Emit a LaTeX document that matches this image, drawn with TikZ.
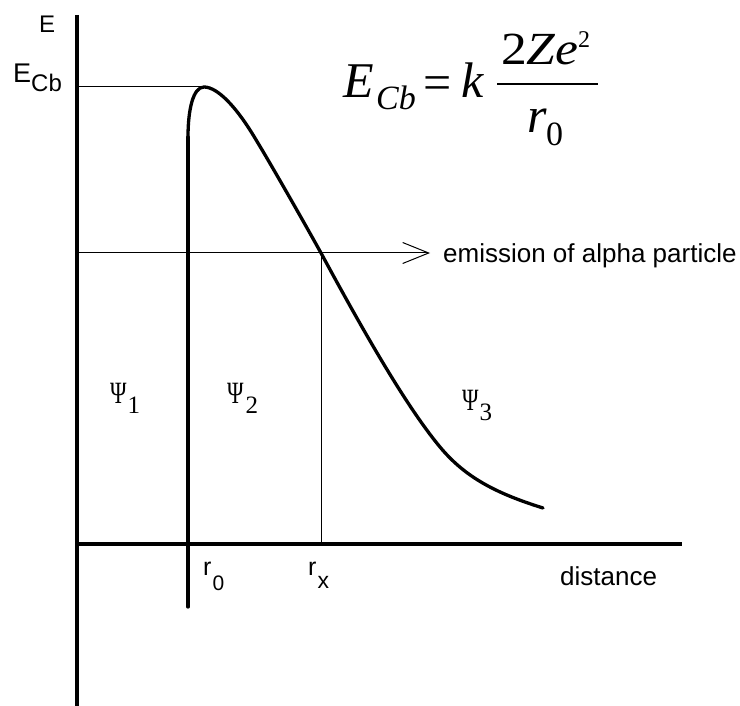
\documentclass[tikz,border=0pt]{standalone}
\usepackage{fontspec}
\usepackage{graphicx}
\setmainfont{Liberation Sans}
\newfontfamily\tnr{Liberation Serif}
\usetikzlibrary{arrows.meta}
\newcommand{\fs}[1]{\fontsize{#1}{#1}\selectfont}
\tikzset{
  axis/.style={line width=4pt},
  curveline/.style={line width=3.3pt, line join=round, line cap=round},
  thinline/.style={line width=1pt},
  txt/.style={inner sep=0pt, anchor=base west},
  psilab/.style={inner sep=0pt, anchor=base west, font=\tnr\fs{31}},
  frm/.style={inner sep=0pt, anchor=base west, font=\tnr\itshape},
}
\newcommand{\psiw}{\scalebox{0.72}[1]{Ψ}}
\begin{document}
\begin{tikzpicture}[x=1pt,y=-1pt]
\useasboundingbox (0,0) rectangle (740,706);
% axes
\coordinate (ytop) at (77,15);
\coordinate (ybot) at (77,706);
\coordinate (xleft) at (75,544);
\coordinate (xright) at (682,544);
\draw[axis] (ytop) -- (ybot);
\draw[axis] (xleft) -- (xright);
% E_Cb line
\coordinate (ecb) at (77,87);
\coordinate (peak) at (204,87);
\draw[thinline] (ecb) -- (peak);
% emission line
\coordinate (em0) at (77,253);
\coordinate (emtip) at (430,253);
\draw[thinline, -{Straight Barb[length=26pt,width=21pt,line width=1pt]}] (em0) -- (emtip);
% rx line
\coordinate (rxtop) at (321,253);
\coordinate (rxbot) at (321,544);
\draw[thinline] (rxtop) -- (rxbot);
% barrier curve
\coordinate (r0bot) at (188,607);
\coordinate (r0top) at (188,137);
\coordinate (cend) at (543,508);
\draw[curveline] (r0bot) -- (r0top);
\draw[curveline] (r0top) .. controls (188,110) and (193,87) .. (peak)
  .. controls (218,87) and (236,108) .. (250,130)
  .. controls (264,152) and (305,224) .. (rxtop)
  .. controls (360,325) and (405,405) .. (440,447)
  .. controls (465,477) and (495,493) .. (cend);
% labels
\node[txt, font=\fs{24}] (E) at (39,33) {E};
\node[txt, font=\fs{27}] (Ecb) at (13,83) {E\raisebox{-9pt}{\fs{24}Cb}};
\node[txt, font=\fs{26}] (emlab) at (443,263) {emission of alpha particle};
\node[psilab] (psi1) at (110,403) {\psiw\kern1pt\raisebox{-10pt}{\fs{25}1}};
\node[psilab] (psi2) at (227,403) {\psiw\kern2pt\raisebox{-10pt}{\fs{25}2}};
\node[psilab] (psi3) at (462,410) {\psiw\kern1pt\raisebox{-10pt}{\fs{25}3}};
\node[txt, font=\fs{25}] (r0) at (203,575) {r\kern1pt\raisebox{-15pt}{\fs{21}0}};
\node[txt, font=\fs{25}] (rx) at (308,575) {r\kern1pt\raisebox{-13pt}{\fs{23}x}};
\node[txt, font=\fs{26}] (dist) at (560,585) {distance};
% formula
\node[frm, font=\tnr\itshape\fs{50}] (fE) at (343,98) {E};
\node[frm, font=\tnr\itshape\fs{34}] (fCb) at (376,110) {Cb};
\node[inner sep=0pt, font=\tnr\fs{50}] (feq) at (438,88) {=};
\node[frm, font=\tnr\itshape\fs{50}] (fk) at (461,98) {k};
\node[frm, font=\tnr\fs{46}] (fnum) at (501,65) {\scalebox{1.12}[1]{2\textit{Ze}}};
\node[frm, font=\tnr\fs{24}] (fsup) at (578,48) {2};
\coordinate (barL) at (497,84);
\coordinate (barR) at (598,84);
\draw[line width=1.5pt] (barL) -- (barR);
\node[frm, font=\tnr\itshape\fs{50}] (fr) at (527,133) {r};
\node[frm, font=\tnr\fs{34}] (f0) at (546,146) {0};
\end{tikzpicture}
\end{document}
